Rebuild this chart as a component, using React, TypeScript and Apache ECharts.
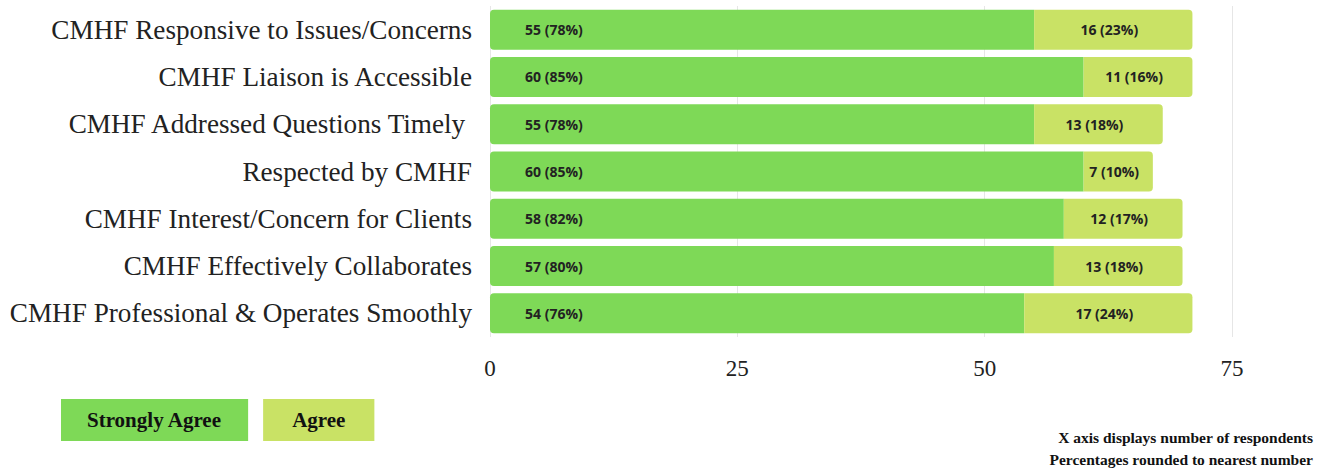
import React, { useEffect, useRef } from "react";
import * as echarts from "echarts";

const categories = [
  "CMHF Responsive to Issues/Concerns",
  "CMHF Liaison is Accessible",
  "CMHF Addressed Questions Timely ",
  "Respected by CMHF",
  "CMHF Interest/Concern for Clients",
  "CMHF Effectively Collaborates",
  "CMHF Professional & Operates Smoothly",
];
const stronglyAgree = [55, 60, 55, 60, 58, 57, 54];
const stronglyAgreePct = [78, 85, 78, 85, 82, 80, 76];
const agree = [16, 11, 13, 7, 12, 13, 17];
const agreePct = [23, 16, 18, 10, 17, 18, 24];
const xTicks = [0, 25, 50, 75];
const notes = ["X axis displays number of respondents", "Percentages rounded to nearest number"];

const GREEN = "#7ED957";
const LIME = "#C9E265";
const SERIF = "'Liberation Serif', 'DejaVu Serif', serif";
const SANS = "'Open Sans', 'Noto Sans', sans-serif";

export default function App() {
  const ref = useRef<HTMLDivElement>(null);
  useEffect(() => {
    document.body.style.margin = "0";
    const chart = echarts.init(ref.current!, null, { renderer: "svg" });
    chart.setOption({
      animation: false,
      backgroundColor: "#ffffff",
      grid: { left: 490, right: 90, top: 6, bottom: 131, containLabel: false },
      xAxis: {
        type: "value",
        min: xTicks[0],
        max: xTicks[xTicks.length - 1],
        interval: 25,
        axisLine: { show: false },
        axisTick: { show: false },
        splitLine: { show: true, lineStyle: { color: "#e6e6e6", width: 1 } },
        axisLabel: { color: "#222", fontFamily: SERIF, fontSize: 23, margin: 20 },
      },
      yAxis: {
        type: "category",
        inverse: true,
        data: categories,
        axisLine: { show: false },
        axisTick: { show: false },
        axisLabel: { color: "#222", fontFamily: SERIF, fontSize: 27.2, margin: 18 },
      },
      legend: {
        left: 56,
        top: 399,
        padding: 0,
        itemWidth: 0,
        itemHeight: 0,
        itemGap: 10,
        selectedMode: false,
        data: [
          {
            name: "Strongly Agree",
            icon: "rect",
            textStyle: {
              backgroundColor: GREEN,
              height: 42,
              lineHeight: 42,
              padding: [0, 26],
              fontFamily: SERIF,
              fontWeight: "bold",
              fontSize: 21,
              color: "#111",
            },
          },
          {
            name: "Agree",
            icon: "rect",
            textStyle: {
              backgroundColor: LIME,
              height: 42,
              lineHeight: 42,
              padding: [0, 29],
              fontFamily: SERIF,
              fontWeight: "bold",
              fontSize: 21,
              color: "#111",
            },
          },
        ],
      },
      graphic: notes.map((t, i) => ({
        type: "text",
        right: 9,
        top: 429 + i * 22,
        style: {
          text: t,
          fill: "#111",
          font: `bold 15.5px ${SERIF}`,
          textAlign: "right",
        },
      })),
      series: [
        {
          name: "Strongly Agree",
          type: "bar",
          stack: "total",
          barWidth: 40,
          data: stronglyAgree,
          itemStyle: { color: GREEN, borderRadius: [4, 0, 0, 4] },
          label: {
            show: true,
            position: "insideLeft",
            distance: 35,
            formatter: (p: any) => `${p.value} (${stronglyAgreePct[p.dataIndex]}%)`,
            color: "#222",
            fontFamily: SANS,
            fontWeight: "bold",
            fontSize: 14,
          },
        },
        {
          name: "Agree",
          type: "bar",
          stack: "total",
          barWidth: 40,
          data: agree,
          itemStyle: { color: LIME, borderRadius: [0, 4, 4, 0] },
          label: {
            show: true,
            position: "inside",
            offset: [-4, 0],
            formatter: (p: any) => `${p.value} (${agreePct[p.dataIndex]}%)`,
            color: "#222",
            fontFamily: SANS,
            fontWeight: "bold",
            fontSize: 14,
          },
        },
      ],
    });
    return () => chart.dispose();
  }, []);
  return <div ref={ref} style={{ width: 1322, height: 468 }} />;
}
